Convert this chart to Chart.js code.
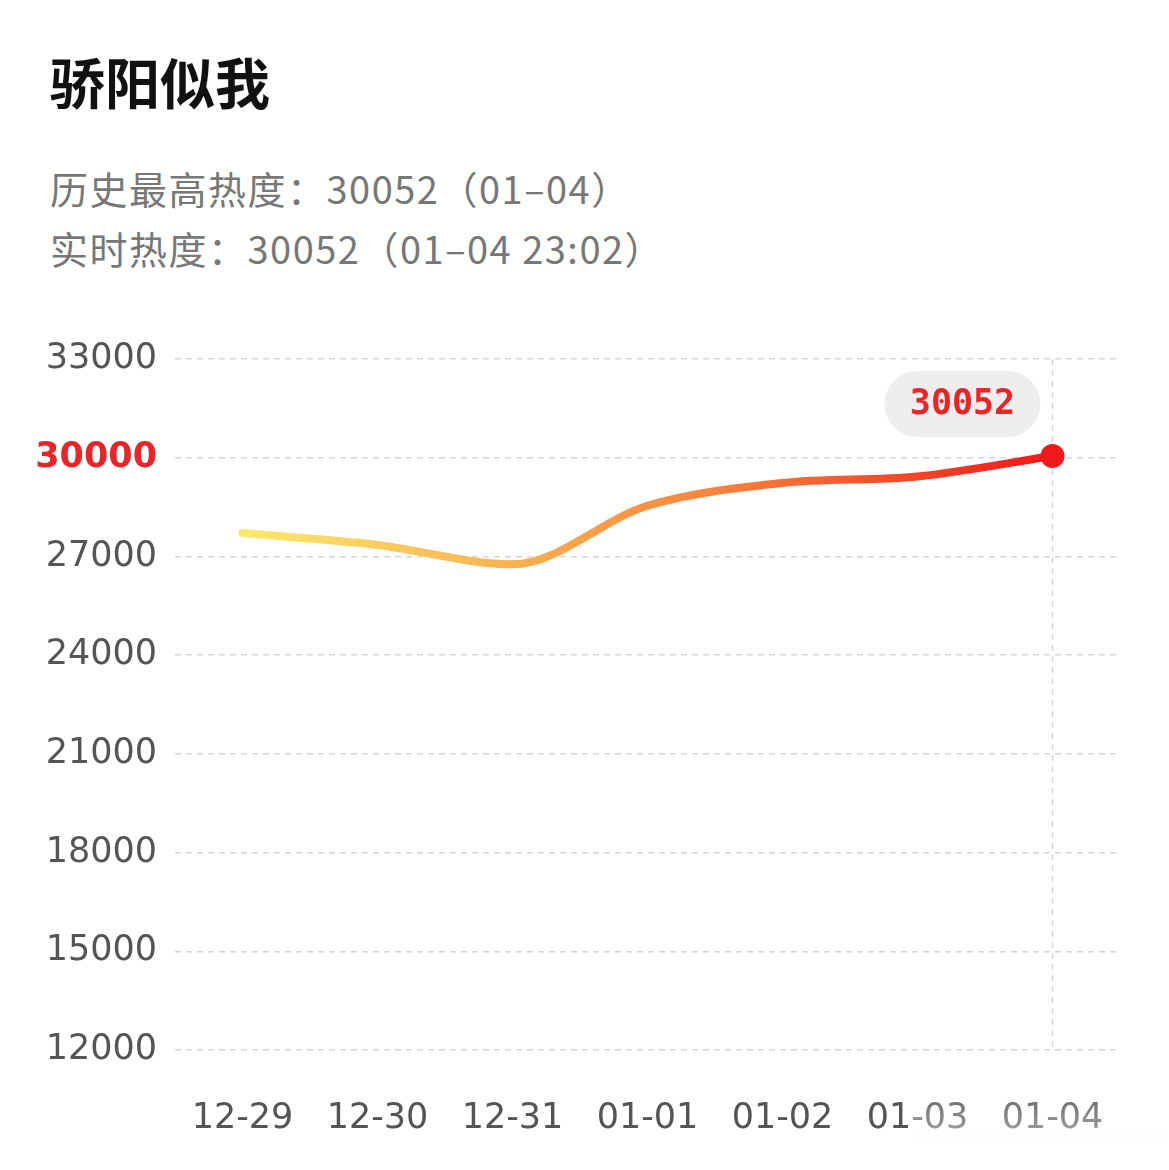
<!DOCTYPE html>
<html><head><meta charset="utf-8">
<script src="https://cdn.jsdelivr.net/npm/chart.js@4.4.1/dist/chart.umd.min.js"></script>
<style>
body{margin:0;background:#fff;width:1169px;height:1170px;overflow:hidden;font-family:"Noto Sans CJK SC","Noto Sans",sans-serif;}
#title{position:absolute;left:50px;top:40px;font-size:55px;font-weight:bold;color:#111;}
.sub{position:absolute;left:50px;font-size:38px;color:#777;letter-spacing:1.5px;}
#wrap{position:absolute;left:0;top:320px;width:1169px;height:870px;}
#fade{position:absolute;right:0;bottom:0;width:260px;height:90px;background:linear-gradient(to bottom,rgba(255,255,255,0),rgba(255,255,255,0.75));pointer-events:none;}
</style></head><body>
<div id="title">骄阳似我</div>
<div class="sub" style="top:160px">历史最高热度：30052（01–04）</div>
<div class="sub" style="top:220px">实时热度：30052（01–04 23:02）</div>
<div id="wrap"><canvas id="c"></canvas></div>
<div id="fade"></div>
<script>
const dates = ['12-29','12-30','12-31','01-01','01-02','01-03','01-04'];
const heat = [27710, 27350, 26760, 28540, 29230, 29430, 30052];
const yTicks = [12000,15000,18000,21000,24000,27000,30000,33000];

const overlay = {
  id:'overlay',
  beforeDatasetsDraw(chart){
    const {ctx, chartArea:a, scales:{x,y}} = chart;
    const px = x.getPixelForValue(dates.length-1);
    ctx.save();
    ctx.strokeStyle='#d8d8d8'; ctx.lineWidth=1.5; ctx.setLineDash([6,5]);
    ctx.beginPath(); ctx.moveTo(px,a.top); ctx.lineTo(px,a.bottom); ctx.stroke();
    ctx.restore();
  },
  afterDatasetsDraw(chart){
    const {ctx, scales:{x,y}} = chart;
    const i = dates.length-1;
    const px = x.getPixelForValue(i), py = y.getPixelForValue(heat[i]);
    ctx.save();
    const w=156,h=66,cx=px-90,cy=py-52;
    ctx.fillStyle='#eeeeee';
    ctx.beginPath(); ctx.roundRect(cx-w/2,cy-h/2,w,h,33); ctx.fill();
    ctx.fillStyle='#e8262a'; ctx.font='bold 35px "DejaVu Sans Mono","Noto Sans",sans-serif';
    ctx.textAlign='center'; ctx.textBaseline='middle';
    ctx.fillText(String(heat[i]),cx,cy+1);
    ctx.beginPath(); ctx.arc(px,py,12,0,Math.PI*2); ctx.fillStyle='#f01a1a'; ctx.fill();
    ctx.restore();
  }
};

new Chart(document.getElementById('c'),{
  type:'line',
  data:{labels:dates,datasets:[{
    data:heat,
    borderWidth:8,
    tension:0.4,
    cubicInterpolationMode:'monotone',
    pointRadius:0,
    borderCapStyle:'round',
    borderColor(ctx){
      const c=ctx.chart, a=c.chartArea;
      if(!a) return '#f5a040';
      const g=c.ctx.createLinearGradient(c.scales.x.getPixelForValue(0),0,c.scales.x.getPixelForValue(dates.length-1),0);
      g.addColorStop(0,'#fbe96e'); g.addColorStop(0.35,'#f9ae4f'); g.addColorStop(0.6,'#f6803c'); g.addColorStop(1,'#f01818');
      return g;
    }
  }]},
  options:{
    responsive:true,maintainAspectRatio:false,animation:false,
    layout:{padding:{top:23,right:49,bottom:10,left:0}},
    plugins:{legend:{display:false},tooltip:{enabled:false}},
    scales:{
      x:{offset:true,grid:{display:false},border:{display:false},
        ticks:{padding:40,color:'#555',font:{size:35,family:'"DejaVu Sans","Noto Sans",sans-serif'}}},
      y:{min:12000,max:33000,
        afterBuildTicks(s){s.ticks=yTicks.map(v=>({value:v}));},
        afterFit(s){s.width=175;},
        grid:{color:'#d6d6d6',lineWidth:1.5,drawTicks:false},
        border:{display:false,dash:[6,5]},
        ticks:{padding:18,callback:v=>String(v),
          color:c=>c.tick.value===30000?'#e8262a':'#555',
          font:c=>({size:35,family:'"DejaVu Sans","Noto Sans",sans-serif',weight:c.tick&&c.tick.value===30000?'bold':'normal'})}
      }
    }
  },
  plugins:[overlay]
});
</script>
</body></html>
